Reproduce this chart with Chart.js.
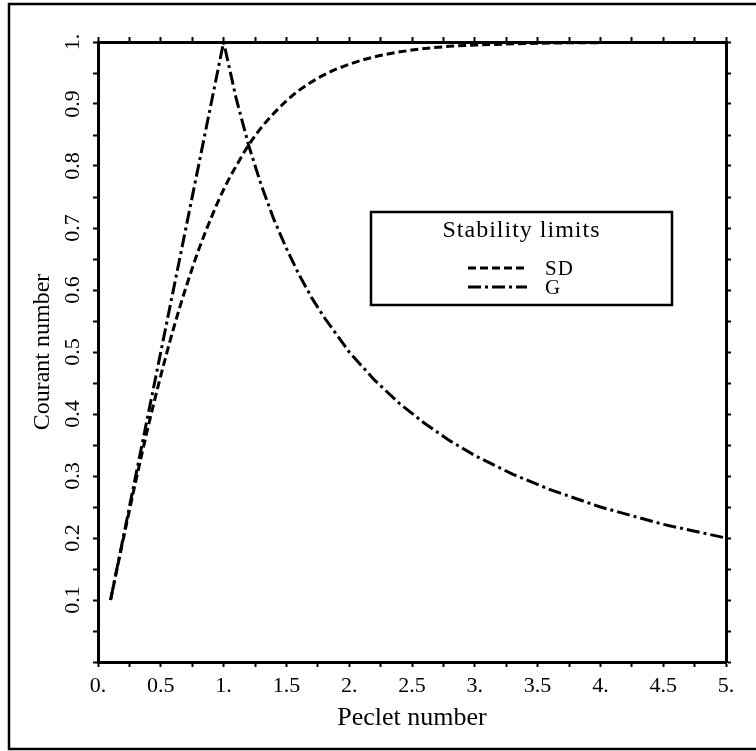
<!DOCTYPE html>
<html>
<head>
<meta charset="utf-8">
<script src="https://cdn.jsdelivr.net/npm/chart.js@4/dist/chart.umd.min.js"></script>
<style>
  html, body { margin: 0; padding: 0; background: #fff; }
  #wrap { width: 756px; height: 751px; }
</style>
</head>
<body>
<div id="wrap"><canvas id="chart" width="756" height="751"></canvas></div>
<script>
// values
const sdPeclet = [0.1, 0.2, 0.3, 0.4, 0.5, 0.6, 0.7, 0.8, 0.9, 1.0, 1.1, 1.2, 1.3, 1.4, 1.5, 1.6, 1.8, 2.0, 2.2, 2.5, 2.8, 3.0, 3.5, 4.0, 4.5, 5.0];
const sdCourant = [0.100, 0.197, 0.291, 0.380, 0.462, 0.537, 0.604, 0.664, 0.716, 0.762, 0.800, 0.834, 0.862, 0.885, 0.905, 0.922, 0.947, 0.964, 0.976, 0.987, 0.993, 0.995, 0.998, 0.999, 1.000, 1.000];

const gPeclet = [0.1, 1.0, 1.1, 1.2, 1.3, 1.4, 1.5, 1.6, 1.7, 1.8, 2.0, 2.2, 2.4, 2.6, 2.8, 3.0, 3.3, 3.6, 4.0, 4.5, 5.0];
const gCourant = [0.100, 1.000, 0.909, 0.833, 0.769, 0.714, 0.667, 0.625, 0.588, 0.556, 0.500, 0.455, 0.417, 0.385, 0.357, 0.333, 0.303, 0.278, 0.250, 0.222, 0.200];

const seriesNames = ['SD', 'G'];
const legendTitle = 'Stability limits';
const xTitle = 'Peclet number';
const yTitle = 'Courant number';

const SERIF = '"Liberation Serif", "DejaVu Serif", serif';

function pairs(xs, ys) {
    return xs.map((x, i) => ({ x: x, y: ys[i] }));
}

function xLabel(v) {
    if (Math.round(v * 100) % 50 !== 0) return '';
    return Number.isInteger(v) ? v + '.' : String(v);
}

function yLabel(v) {
    const k = Math.round(v * 100);
    if (k === 0 || k % 10 !== 0) return '';
    return k === 100 ? '1.' : (k / 100).toFixed(1);
}

function fixSize(prop, size) {
    return scale => { scale[prop] = size; };
}

const tickGrid = {
    drawOnChartArea: false,
    drawTicks: true,
    tickLength: 5,
    tickWidth: 2,
    tickColor: '#000'
};
const axisBorder = { display: true, color: '#000', width: 3 };

// frame round the whole figure
const framePlugin = {
    id: 'frame',
    beforeDraw(chart) {
        const ctx = chart.ctx;
        ctx.save();
        ctx.strokeStyle = '#000';
        ctx.lineWidth = 2.5;
        ctx.beginPath();
        ctx.moveTo(760, 4);
        ctx.lineTo(9, 4);
        ctx.lineTo(9, 749);
        ctx.lineTo(760, 749);
        ctx.stroke();
        ctx.restore();
    }
};

// rotated y tick labels
const yLabelsPlugin = {
    id: 'yLabels',
    afterDraw(chart) {
        const ctx = chart.ctx;
        const ys = chart.scales.y;
        ctx.save();
        ctx.fillStyle = '#000';
        ctx.font = '22px ' + SERIF;
        ctx.textAlign = 'center';
        ctx.textBaseline = 'middle';
        ys.ticks.forEach(t => {
            const txt = yLabel(t.value);
            if (!txt) return;
            ctx.save();
            ctx.translate(73, ys.getPixelForValue(t.value));
            ctx.rotate(-Math.PI / 2);
            ctx.fillText(txt, 0, 0);
            ctx.restore();
        });
        ctx.restore();
    }
};

// boxed legend inside the plot
const boxLegendPlugin = {
    id: 'boxLegend',
    afterDatasetsDraw(chart) {
        const ctx = chart.ctx;
        const area = chart.chartArea;
        const left = area.left + 273, top = area.top + 170, w = 301, h = 93;
        ctx.save();
        ctx.fillStyle = '#fff';
        ctx.fillRect(left, top, w, h);
        ctx.strokeStyle = '#000';
        ctx.lineWidth = 2.5;
        ctx.strokeRect(left, top, w, h);

        ctx.fillStyle = '#000';
        ctx.textBaseline = 'middle';
        ctx.textAlign = 'center';
        ctx.font = '24px ' + SERIF;
        ctx.letterSpacing = '1px';
        ctx.fillText(legendTitle, left + w / 2, top + 19);

        ctx.font = '21px ' + SERIF;
        ctx.textAlign = 'left';
        chart.data.datasets.forEach((ds, i) => {
            const y = top + 56 + i * 19;
            ctx.save();
            ctx.strokeStyle = ds.borderColor;
            ctx.lineWidth = ds.borderWidth;
            ctx.setLineDash(ds.borderDash);
            ctx.beginPath();
            ctx.moveTo(left + 97, y);
            ctx.lineTo(left + 156, y);
            ctx.stroke();
            ctx.restore();
            ctx.fillText(ds.label, left + 174, y + 1);
        });
        ctx.restore();
    }
};

new Chart(document.getElementById('chart'), {
    type: 'line',
    data: {
        datasets: [
            {
                label: seriesNames[0],
                data: pairs(sdPeclet, sdCourant),
                borderColor: '#000',
                borderWidth: 3,
                borderDash: [8, 4],
                pointRadius: 0,
                cubicInterpolationMode: 'monotone',
                fill: false
            },
            {
                label: seriesNames[1],
                data: pairs(gPeclet, gCourant),
                borderColor: '#000',
                borderWidth: 3,
                borderDash: [13, 4, 3, 4],
                pointRadius: 0,
                tension: 0,
                fill: false
            }
        ]
    },
    options: {
        responsive: false,
        animation: false,
        devicePixelRatio: 1,
        layout: { padding: 0 },
        plugins: {
            legend: { display: false },
            tooltip: { enabled: false }
        },
        scales: {
            x: {
                type: 'linear',
                position: 'bottom',
                min: 0, max: 5,
                afterFit: fixSize('height', 89),
                grid: tickGrid,
                border: axisBorder,
                ticks: {
                    stepSize: 0.25,
                    autoSkip: false,
                    maxRotation: 0,
                    padding: 6,
                    color: '#000',
                    font: { family: SERIF, size: 22 },
                    callback: v => xLabel(v)
                },
                title: {
                    display: true,
                    text: xTitle,
                    color: '#000',
                    font: { family: SERIF, size: 26 },
                    padding: { top: 0, bottom: 17 }
                }
            },
            x2: {
                type: 'linear',
                position: 'top',
                min: 0, max: 5,
                afterFit: fixSize('height', 42),
                grid: tickGrid,
                border: axisBorder,
                ticks: { stepSize: 0.25, autoSkip: false, display: false }
            },
            y: {
                type: 'linear',
                position: 'left',
                min: 0, max: 1,
                afterFit: fixSize('width', 98),
                grid: tickGrid,
                border: axisBorder,
                ticks: { stepSize: 0.05, autoSkip: false, display: false },
                title: {
                    display: true,
                    text: yTitle,
                    color: '#000',
                    font: { family: SERIF, size: 24 },
                    padding: { top: 28, bottom: 0 }
                }
            },
            y2: {
                type: 'linear',
                position: 'right',
                min: 0, max: 1,
                afterFit: fixSize('width', 30),
                grid: tickGrid,
                border: axisBorder,
                ticks: { stepSize: 0.05, autoSkip: false, display: false }
            }
        }
    },
    plugins: [framePlugin, yLabelsPlugin, boxLegendPlugin]
});
</script>
</body>
</html>
